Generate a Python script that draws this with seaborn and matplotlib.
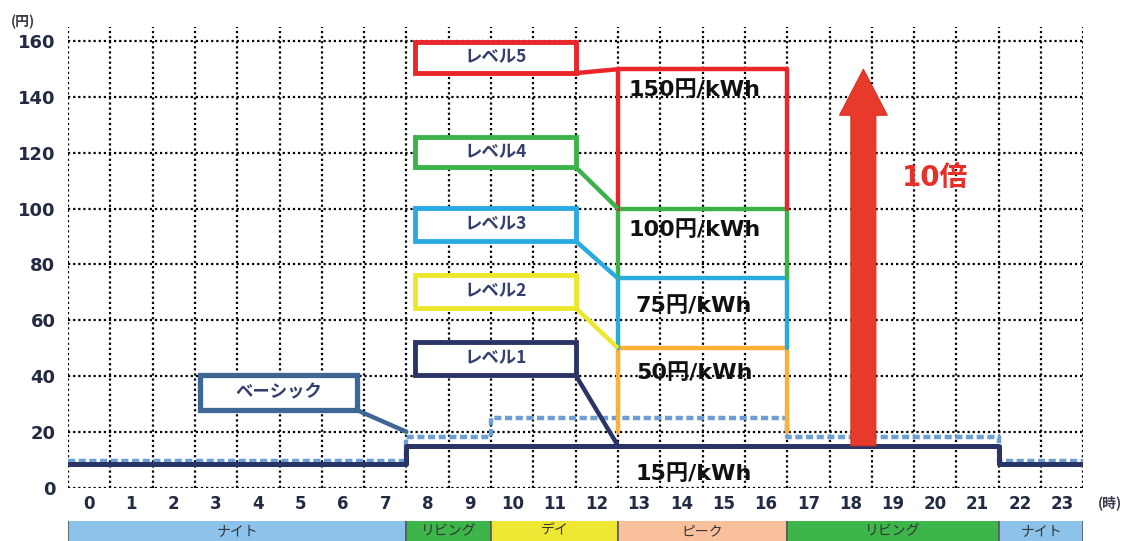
import matplotlib
matplotlib.use("Agg")
import matplotlib.pyplot as plt
import seaborn as sns
from matplotlib.patches import Rectangle, FancyArrow

# ---------------- data ----------------
hours = [0, 1, 2, 3, 4, 5, 6, 7, 8, 9, 10, 11, 12, 13, 14, 15, 16, 17, 18, 19, 20, 21, 22, 23]
hour_labels = [str(h) for h in hours]
level1_price = [8.5, 8.5, 8.5, 8.5, 8.5, 8.5, 8.5, 8.5, 15, 15, 15, 15, 15, 15, 15, 15, 15,
                15, 15, 15, 15, 15, 8.5, 8.5]
basic_price = [9.5, 9.5, 9.5, 9.5, 9.5, 9.5, 9.5, 9.5, 18, 18, 25, 25, 25, 25, 25, 25, 25,
               18, 18, 18, 18, 18, 9.5, 9.5]
peak_start = 13
peak_end = 17
level_names = ["レベル1", "レベル2", "レベル3", "レベル4", "レベル5"]
level_top = [15, 50, 75, 100, 150]
level_bottom = [15, 20, 50, 75, 100]
level_text = ["15円/kWh", "50円/kWh", "75円/kWh", "100円/kWh", "150円/kWh"]
basic_name = "ベーシック"
basic_target = (8, 20)
band_names = ["ナイト", "リビング", "デイ", "ピーク", "リビング", "ナイト"]
band_start = [0, 8, 10, 13, 17, 22]
band_end = [8, 10, 13, 17, 22, 24]
y_ticks = [0, 20, 40, 60, 80, 100, 120, 140, 160]
arrow_base = 15
arrow_top = 150
ratio_label = "10倍"
y_unit = "(円)"
x_unit = "(時)"

# ---------------- style ----------------
sns.set_theme(style="white")
plt.rcParams["font.family"] = ["DejaVu Sans", "Noto Sans CJK JP"]

navy = "#2b3467"
level_colors = [navy, "#fbb03b", "#29abe2", "#3bb34a", "#e8262b"]
label_box_colors = [navy, "#eee62c", "#29abe2", "#3bb34a", "#e8262b"]
basic_box_color = "#3f6796"
basic_line_color = "#6d9fd6"
band_colors = {"ナイト": "#8dc3ea", "リビング": "#3db54a", "デイ": "#eee834", "ピーク": "#f8c19b"}
text_dark = "#222a44"

fig = plt.figure(figsize=(11.27, 5.41), dpi=100)
ax = fig.add_axes([0.0603, 0.0987, 0.901, 0.8507])

# grid
ax.set_xlim(0, 24)
ax.set_ylim(0, 165)
ax.set_xticks(range(25), minor=True)
ax.set_xticks([h + 0.5 for h in hours])
ax.set_xticklabels(hour_labels)
ax.set_yticks(y_ticks)
ax.set_yticklabels([str(v) for v in y_ticks])
grid_kw = dict(color="black", linestyle=(0, (1, 1.3)), linewidth=1.6)
ax.grid(which="minor", axis="x", **grid_kw)
ax.grid(which="major", axis="y", **grid_kw)
ax.grid(which="major", axis="x", visible=False)
ax.set_axisbelow(True)
for s in ax.spines.values():
    s.set_visible(False)
ax.tick_params(which="both", length=0)
ax.tick_params(axis="x", pad=5, labelsize=12, labelcolor=text_dark)
ax.tick_params(axis="y", pad=9, labelsize=13, labelcolor=text_dark)
for t in ax.get_xticklabels() + ax.get_yticklabels():
    t.set_fontweight("bold")

# step lines
xs = hours + [24]
sns.lineplot(x=xs, y=basic_price + [basic_price[-1]], drawstyle="steps-post",
             color=basic_line_color, linewidth=3.2, linestyle=(0, (1.6, 0.8)),
             estimator=None, sort=False, ax=ax, zorder=3)
sns.lineplot(x=xs, y=level1_price + [level1_price[-1]], drawstyle="steps-post",
             color=navy, linewidth=3.6, estimator=None, sort=False, ax=ax, zorder=4)

# peak level frames (levels 2..5)
for i in range(1, 5):
    sns.lineplot(x=[peak_start, peak_start, peak_end, peak_end],
                 y=[level_bottom[i], level_top[i], level_top[i], level_bottom[i]],
                 color=level_colors[i], linewidth=3.2, estimator=None, sort=False,
                 ax=ax, zorder=5 + i)

# price texts
text_y = [5, 41, 65, 92.5, 142.5]
for i in range(5):
    ax.text(14.8, text_y[i], level_text[i], ha="center", va="center",
            fontsize=16, fontweight="bold", color="#111111", zorder=12)

# callout boxes
box_x0, box_x1 = 8.2, 12.0
box_y = [(40.3, 52.2), (64.4, 76.2), (88.4, 100.2), (114.9, 125.6), (148.6, 159.7)]
for i in range(5):
    y0, y1 = box_y[i]
    c = label_box_colors[i]
    ax.add_patch(Rectangle((box_x0, y0), box_x1 - box_x0, y1 - y0, facecolor="white",
                           edgecolor=c, linewidth=3.5, zorder=13))
    ax.plot([box_x1, peak_start], [y0, level_top[i]], color=c, linewidth=3.2,
            zorder=12, solid_capstyle="butt")
    ax.text((box_x0 + box_x1) / 2, (y0 + y1) / 2, level_names[i], ha="center",
            va="center", fontsize=12.5, color="#33406e", fontweight="bold",
            family=["Noto Sans CJK JP"], zorder=14)

# basic callout
bx0, bx1, by0, by1 = 3.12, 6.83, 27.8, 40.3
ax.add_patch(Rectangle((bx0, by0), bx1 - bx0, by1 - by0, facecolor="white",
                       edgecolor=basic_box_color, linewidth=3.8, zorder=13))
ax.plot([bx1, basic_target[0]], [by0, basic_target[1]], color=basic_box_color,
        linewidth=3.2, zorder=12)
ax.text((bx0 + bx1) / 2, (by0 + by1) / 2, basic_name, ha="center", va="center",
        fontsize=12.5, color="#33406e", fontweight="bold", family=["Noto Sans CJK JP"],
        zorder=14)

# big arrow
ax.add_patch(FancyArrow(18.8, arrow_base, 0, arrow_top - arrow_base, width=0.59,
                        head_width=1.13, head_length=16.5, length_includes_head=True,
                        facecolor="#e83a2a", edgecolor="#d63324", linewidth=0.8,
                        zorder=15))
ax.text(20.5, 111, ratio_label, ha="center", va="center", fontsize=20,
        fontweight="bold", color="#e8302a", family=["DejaVu Sans", "Noto Sans CJK JP"],
        zorder=15)

# units
fig.text(23 / 1127, 1 - 22 / 541, y_unit, ha="center", va="center", fontsize=10,
         fontweight="bold", color="#3a3a4a", family=["Noto Sans CJK JP"])
fig.text(1110 / 1127, 1 - 503 / 541, x_unit, ha="center", va="center", fontsize=10,
         fontweight="bold", color="#3a3a4a", family=["Noto Sans CJK JP"])

# time band
bax = fig.add_axes([0.0603, 0.0, 0.901, 20 / 541])
bax.set_xlim(0, 24)
bax.set_ylim(0, 1)
for name, s, e in zip(band_names, band_start, band_end):
    bax.barh(0.5, e - s, left=s, height=1.2, color=band_colors[name],
             edgecolor="#5a5a5a", linewidth=1.2, clip_on=True)
    bax.text((s + e) / 2, 0.5, name, ha="center", va="center", fontsize=10,
             color="#333333", family=["Noto Sans CJK JP"])
bax.axis("off")

fig.savefig("out.png", dpi=100)
